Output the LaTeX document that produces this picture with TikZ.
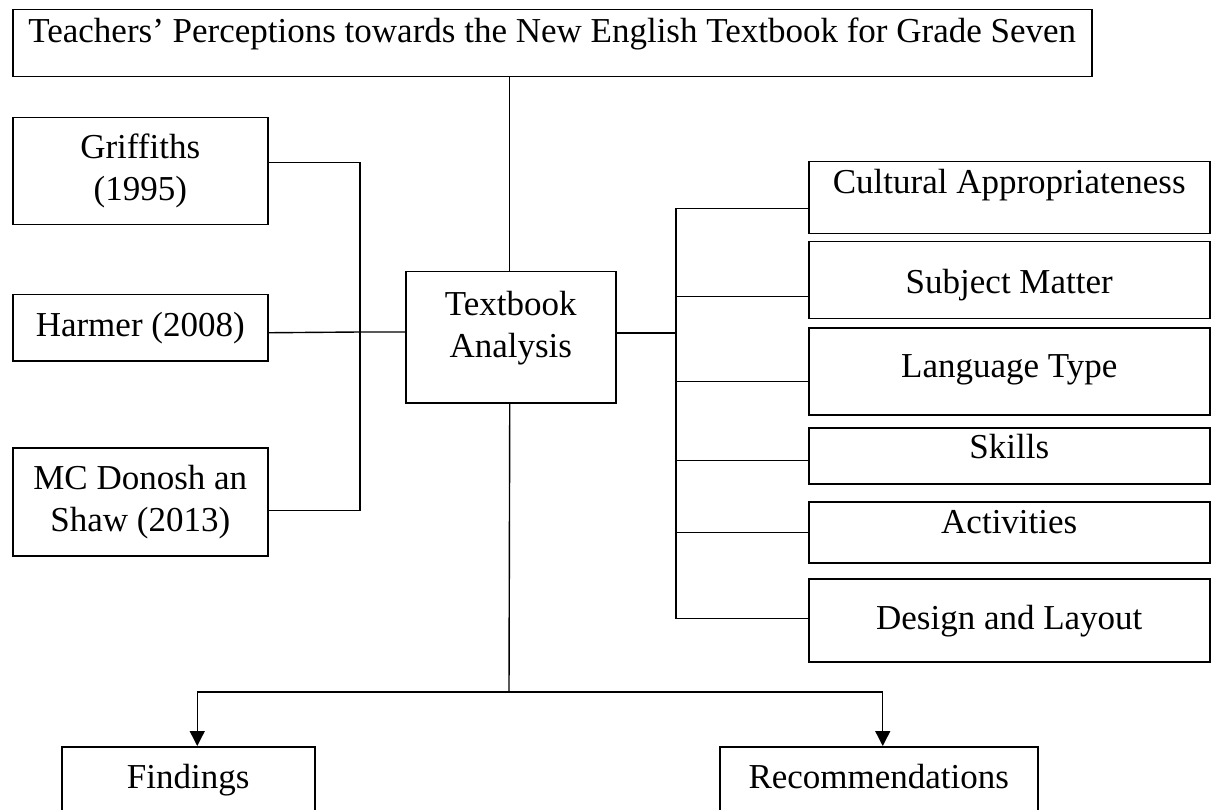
\documentclass[tikz,border=0pt]{standalone}
\usepackage{fontspec}
\setmainfont{Liberation Serif}
\usetikzlibrary{arrows.meta}

\begin{document}
\begin{tikzpicture}[x=1pt,y=-1pt,
  box/.style={draw,line width=1.5pt,inner sep=0pt,anchor=north west,
    font=\fontsize{35pt}{42pt}\selectfont},
  link/.style={line width=1.4pt},
  >={Triangle[length=15pt,width=15pt]}]

\useasboundingbox (0,0) rectangle (1218,810);

\node[box,minimum width=1079pt,text height=33pt,text depth=34pt] (title) at (12,9) {Teachers’ Perceptions towards the New English Textbook for Grade Seven};

\node[box,align=center,minimum width=255pt,minimum height=107pt] (grif) at (12,117) {Griffiths\\(1995)};
\node[box,minimum width=255pt,text height=42pt,text depth=24pt] (harmer) at (12,294) {Harmer (2008)};
\node[box,align=center,minimum width=255pt,minimum height=108pt] (mc) at (12,447) {MC Donosh an\\Shaw (2013)};

\node[box,align=center,minimum width=210pt,minimum height=131pt] (ta) at (405,271) {Textbook\\Analysis\rule[-26pt]{0pt}{1pt}};

\node[box,minimum width=401pt,text height=32pt,text depth=40pt] (cult) at (808,161) {Cultural Appropriateness};
\node[box,minimum width=401pt,text height=52pt,text depth=25pt] (subj) at (808,241) {Subject Matter};
\node[box,minimum width=401pt,text height=50pt,text depth=37pt] (lang) at (808,327) {Language Type};
\node[box,minimum width=401pt,text height=31pt,text depth=25pt] (skill) at (808,427) {Skills};
\node[box,minimum width=401pt,text height=32pt,text depth=29pt] (act) at (808,501) {Activities};
\node[box,minimum width=401pt,text height=51pt,text depth=32pt] (design) at (808,578) {Design and Layout};

\node[box,minimum width=253pt,text height=42pt,text depth=60pt] (find) at (61,746) {Findings};
\node[box,minimum width=318pt,text height=42pt,text depth=60pt] (rec) at (719,746) {Recommendations};

\coordinate (lbus) at (360,332);
\coordinate (rbus) at (676,333);
\coordinate (split) at (509,692);

\draw[link] ([xshift=-1pt]ta.north) -- ([xshift=-1pt]ta.north |- title.south);
\draw[link] ([yshift=9pt]grif.east) -| (lbus) |- ([yshift=-9pt]mc.east);
\draw[link] ([yshift=-5pt]harmer.east) -- (lbus) -- (lbus -| ta.west);
\draw[link] (ta.east |- rbus) -- (rbus);
\foreach \n/\d in {cult/-11,subj/-16,lang/-10,skill/-5,act/0,design/2}
  \draw[link] ([yshift=\d pt]\n.west) -| (rbus);
\draw[link] ([xshift=-1pt]ta.south) -- (split);
\draw[link,->] (split) -| ([xshift=9pt]find.north);
\draw[link,->] (split) -| ([xshift=4pt]rec.north);

\end{tikzpicture}
\end{document}
